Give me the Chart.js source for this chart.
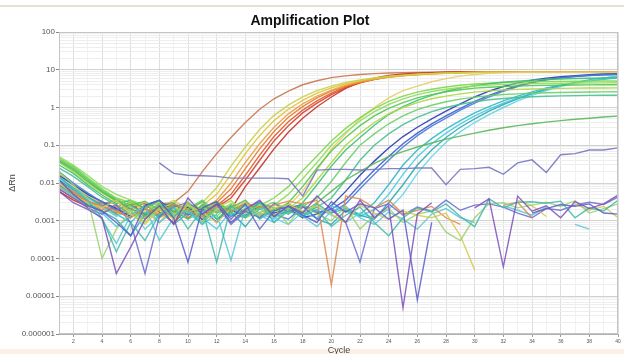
<!DOCTYPE html>
<html><head><meta charset="utf-8">
<script src="https://cdn.jsdelivr.net/npm/chart.js@4.4.1/dist/chart.umd.min.js"></script>
<style>html,body{margin:0;padding:0;background:#fff}canvas{display:block}</style>
</head><body>
<canvas id="c" width="624" height="354"></canvas>
<script>
// ---- categories / ticks ----
const cycles = [1,2,3,4,5,6,7,8,9,10,11,12,13,14,15,16,17,18,19,20,21,22,23,24,25,26,27,28,29,30,31,32,33,34,35,36,37,38,39,40];
const xTickLabels = ['2','4','6','8','10','12','14','16','18','20','22','24','26','28','30','32','34','36','38','40'];
const yDecades = [0.000001,0.00001,0.0001,0.001,0.01,0.1,1,10,100];
const yTickLabels = ['0.000001','0.00001','0.0001','0.001','0.01','0.1','1','10','100'];

// ---- amplified wells (ΔRn per cycle) ----
const brown = [0.012,0.0065,0.0045,0.0028,0.0035,0.002,0.0016,0.0028,0.003,0.006,0.02,0.06,0.16,0.4,0.9,1.7,2.7,4.0,5.1,6.2,6.9,7.5,7.9,8.2,8.4,8.5,8.6,8.7,8.7,8.7,8.7,8.7,8.7,8.7,8.7,8.7,8.7,8.7,8.7,8.7];
const ylwGreen = [0.018,0.009,0.005,0.0032,0.002,0.0028,0.0012,0.0022,0.0035,0.002,0.003,0.0075,0.028,0.09,0.26,0.62,1.15,1.9,2.8,3.7,4.6,5.4,6.1,6.7,7.2,7.6,7.9,8.1,8.3,8.4,8.5,8.5,8.5,8.5,8.5,8.5,8.5,8.5,8.5,8.5];
const yellow = [0.01,0.006,0.004,0.0025,0.0015,0.0032,0.0018,0.0009,0.0024,0.0016,0.0025,0.005,0.017,0.06,0.18,0.45,0.9,1.55,2.4,3.3,4.2,5.1,5.8,6.5,7.0,7.5,7.8,8.1,8.3,8.5,8.6,8.6,8.6,8.6,8.6,8.6,8.6,8.6,8.6,8.6];
const ltOrange = [0.008,0.0045,0.003,0.0022,0.0014,0.0026,0.0031,0.0012,0.0019,0.0027,0.002,0.0035,0.01,0.035,0.11,0.3,0.68,1.25,2.0,2.9,3.9,4.8,5.6,6.3,6.9,7.4,7.8,8.1,8.3,8.5,8.6,8.6,8.6,8.6,8.6,8.6,8.6,8.6,8.6,8.6];
const orange = [0.011,0.0055,0.0035,0.0019,0.0027,0.0013,0.0022,0.0034,0.0011,0.0024,0.0017,0.003,0.007,0.024,0.08,0.23,0.55,1.05,1.8,2.7,3.7,4.7,5.6,6.4,7.0,7.5,7.9,8.2,8.4,8.6,8.7,8.7,8.7,8.7,8.7,8.7,8.7,8.7,8.7,8.7];
const redOrange = [0.007,0.004,0.0026,0.0017,0.0023,0.0031,0.0014,0.0019,0.0028,0.0012,0.0021,0.0025,0.005,0.016,0.055,0.17,0.42,0.85,1.5,2.4,3.5,4.6,5.6,6.5,7.2,7.7,8.1,8.4,8.6,8.7,8.7,8.7,8.7,8.7,8.7,8.7,8.7,8.7,8.7,8.7];
const red = [0.009,0.005,0.0033,0.0024,0.0016,0.0021,0.0029,0.0013,0.0026,0.0018,0.0011,0.0023,0.004,0.012,0.04,0.13,0.33,0.72,1.3,2.2,3.3,4.5,5.6,6.6,7.3,7.8,8.2,8.5,8.7,8.7,8.7,8.7,8.7,8.7,8.7,8.7,8.7,8.7,8.7,8.7];
const darkRed = [0.006,0.0035,0.0024,0.0031,0.0018,0.0012,0.0025,0.0017,0.0009,0.0021,0.0014,0.0019,0.002,0.008,0.025,0.08,0.22,0.52,1.05,1.9,3.2,4.7,6.0,7.1,7.7,8.1,8.4,8.6,8.7,8.7,8.7,8.7,8.7,8.7,8.7,8.7,8.7,8.7,8.7,8.7];
const gold = [0.014,0.008,0.0045,0.003,0.0018,0.0024,0.0032,0.0015,0.0021,0.0028,0.0013,0.0019,0.0027,0.0016,0.0022,0.0012,0.0025,0.006,0.022,0.08,0.2,0.5,1.0,1.8,2.8,3.7,4.8,5.8,6.8,7.5,8.0,8.3,8.5,8.6,8.6,8.6,8.6,8.6,8.6,8.6];
const green1 = [0.045,0.028,0.014,0.007,0.004,0.003,0.0022,0.003,0.0018,0.0025,0.0015,0.003,0.002,0.0028,0.0025,0.004,0.008,0.021,0.052,0.13,0.28,0.54,0.93,1.45,2.0,2.55,3.05,3.5,3.9,4.2,4.4,4.6,4.72,4.8,4.87,4.92,4.96,5.0,5.02,5.05];
const green2 = [0.05,0.03,0.016,0.008,0.005,0.0035,0.0026,0.002,0.0031,0.0017,0.0024,0.0013,0.0029,0.0021,0.0016,0.0026,0.005,0.013,0.035,0.1,0.22,0.44,0.78,1.2,1.7,2.2,2.65,3.05,3.4,3.7,3.92,4.1,4.22,4.3,4.36,4.4,4.44,4.47,4.5,4.52];
const green3 = [0.04,0.024,0.012,0.006,0.0035,0.0026,0.0033,0.0019,0.0014,0.0027,0.0021,0.0032,0.0016,0.0012,0.0023,0.0018,0.003,0.008,0.025,0.07,0.16,0.33,0.6,0.95,1.35,1.8,2.2,2.6,2.95,3.25,3.45,3.6,3.72,3.8,3.86,3.9,3.94,3.97,4.0,4.02];
const lime = [0.035,0.02,0.01,0.0055,0.0032,0.0018,0.0009,0.0024,0.0015,0.0029,0.0012,0.0022,0.0034,0.0017,0.0026,0.0014,0.0021,0.004,0.012,0.035,0.1,0.21,0.4,0.68,1.0,1.35,1.7,2.0,2.3,2.55,2.75,2.9,3.02,3.1,3.17,3.22,3.26,3.28,3.3,3.32];
const green4 = [0.03,0.018,0.009,0.0048,0.0028,0.0035,0.0021,0.0013,0.0027,0.0019,0.0033,0.0011,0.0024,0.0018,0.0029,0.0022,0.0015,0.003,0.009,0.028,0.075,0.16,0.34,0.65,1.05,1.55,2.1,2.7,3.25,3.8,4.25,4.65,5.0,5.3,5.5,5.7,5.85,5.95,6.05,6.1];
const green5 = [0.042,0.026,0.013,0.0065,0.0038,0.0024,0.0016,0.0028,0.0012,0.0021,0.0035,0.0017,0.0026,0.0013,0.0022,0.0031,0.0019,0.0024,0.004,0.011,0.035,0.1,0.2,0.37,0.6,0.88,1.15,1.42,1.67,1.88,2.05,2.2,2.3,2.38,2.45,2.5,2.54,2.57,2.6,2.62];
const green6 = [0.025,0.015,0.008,0.0042,0.0026,0.0015,0.0022,0.0034,0.0014,0.0019,0.0009,0.0025,0.0016,0.0031,0.0012,0.0021,0.0027,0.0015,0.0023,0.004,0.012,0.04,0.1,0.2,0.35,0.55,0.78,1.0,1.22,1.42,1.6,1.73,1.84,1.92,1.98,2.03,2.06,2.09,2.11,2.12];
const greenLow = [0.038,0.022,0.011,0.0058,0.0034,0.0021,0.0013,0.0025,0.0018,0.0011,0.0027,0.0016,0.0022,0.0035,0.0014,0.0019,0.0028,0.0017,0.003,0.006,0.012,0.02,0.033,0.05,0.068,0.09,0.115,0.145,0.175,0.21,0.25,0.29,0.33,0.37,0.41,0.45,0.49,0.52,0.56,0.59];
const blue1 = [0.016,0.009,0.005,0.0032,0.0021,0.0013,0.0026,0.0035,0.0017,0.0023,0.0011,0.0028,0.0019,0.0014,0.0024,0.0016,0.0021,0.0012,0.0015,0.0025,0.006,0.016,0.038,0.085,0.17,0.3,0.5,0.8,1.25,1.9,2.7,3.6,4.5,5.3,6.0,6.5,7.0,7.4,7.7,7.9];
const blue2 = [0.012,0.007,0.0042,0.0025,0.0033,0.0018,0.0011,0.0024,0.003,0.0014,0.0021,0.0009,0.0026,0.0017,0.0031,0.0013,0.0022,0.0027,0.0016,0.002,0.0035,0.009,0.022,0.05,0.11,0.21,0.37,0.6,0.95,1.45,2.1,2.9,3.8,4.7,5.5,6.1,6.6,7.0,7.3,7.5];
const blue3 = [0.02,0.01,0.0055,0.0031,0.0019,0.0027,0.0015,0.0022,0.0012,0.0029,0.0018,0.0024,0.0013,0.002,0.0032,0.0015,0.0011,0.0023,0.0018,0.0016,0.0028,0.007,0.017,0.04,0.09,0.18,0.32,0.52,0.85,1.3,1.9,2.7,3.6,4.5,5.4,6.1,6.7,7.1,7.4,7.6];
const cyan1 = [0.014,0.0075,0.0042,0.0026,0.0015,0.0009,0.0021,0.0012,0.0028,0.0017,0.0008,0.0023,0.0014,0.0026,0.0011,0.0019,0.0024,0.0013,0.0028,0.0016,0.0021,0.0015,0.003,0.009,0.03,0.075,0.15,0.27,0.45,0.72,1.05,1.5,2.0,2.6,3.3,3.9,4.5,5.1,5.6,6.1];
const cyan2 = [0.011,0.006,0.0035,0.0016,0.0007,0.0013,0.0024,0.0009,0.0018,0.0027,0.0012,0.0006,0.0019,0.0025,0.0014,0.0009,0.0022,0.0016,0.0012,0.0025,0.0018,0.0013,0.002,0.005,0.017,0.05,0.11,0.21,0.37,0.6,0.9,1.3,1.8,2.4,3.1,3.8,4.5,5.2,5.8,6.4];
const teal = [0.009,0.005,0.0028,0.0018,0.0011,0.0004,0.0015,0.0022,0.0008,0.0016,0.0025,0.0011,0.0017,0.0007,0.0021,0.0013,0.0018,0.0026,0.0011,0.0008,0.0019,0.0014,0.0011,0.003,0.009,0.03,0.075,0.16,0.3,0.5,0.8,1.2,1.7,2.3,3.0,3.8,4.6,5.4,6.1,6.8];
const ltCyan = [0.013,0.007,0.004,0.0023,0.0013,0.002,0.0006,0.0014,0.0021,0.0011,0.0017,0.0024,0.0009,0.0015,0.0022,0.0012,0.0008,0.0017,0.0023,0.0014,0.0009,0.0016,0.0012,0.002,0.005,0.018,0.05,0.12,0.23,0.4,0.65,1.0,1.5,2.1,2.8,3.6,4.4,5.2,6.0,6.7];

// ---- non-amplified wells ----
const slateHigh = [null,null,null,null,null,null,null,0.034,0.018,0.016,0.0155,0.015,0.0135,0.0135,0.0135,0.0135,0.013,0.0045,0.022,0.023,0.023,0.022,0.023,0.024,0.024,0.025,0.025,0.009,0.023,0.024,0.026,0.017,0.034,0.041,0.019,0.056,0.06,0.075,0.075,0.085];
const ntcPurple = [0.006,0.003,0.002,0.0012,0.00004,0.0002,0.0011,0.0025,0.0008,0.004,0.0015,0.0028,0.0009,0.002,0.0035,0.0013,0.0025,0.0016,0.0045,0.002,0.0009,0.0035,0.0012,0.0025,0.000005,0.0015,0.003,null,null,0.0022,0.0038,0.00006,0.0045,0.0018,0.0025,0.0012,0.0032,0.0021,0.0028,0.0048];
const ntcViolet = [0.012,0.005,0.0025,0.0018,0.0009,0.0004,0.0025,0.0035,0.0012,0.00008,0.0022,0.0032,0.0011,0.0028,0.0006,0.0018,0.0024,0.0014,0.0009,0.0032,0.0017,0.0028,0.0022,0.0011,0.0019,0.000008,0.0009,null,null,null,null,null,null,0.0016,0.0021,0.0027,0.0024,0.0028,0.0016,0.0015];
const ntcTeal = [0.015,0.007,0.0035,0.0012,0.00015,0.0009,0.0003,0.0015,0.0024,0.0006,0.002,0.00008,0.0025,0.0012,0.0032,0.0009,0.0018,0.0013,0.002,0.0007,0.0014,0.0023,0.0009,0.0004,0.0012,0.0022,0.0017,0.0028,0.0013,0.0007,0.0038,0.0022,0.0031,0.0032,0.0029,0.0033,0.0012,0.0022,0.0018,0.0035];
const ntcLtGreen = [0.02,0.009,0.004,0.0001,0.0006,0.0018,0.0011,0.0022,0.0014,0.0032,0.0009,0.002,0.0026,0.0012,0.0017,0.0023,0.0008,0.0027,0.0015,0.001,0.0024,0.0006,0.0014,0.0021,0.0009,0.0015,0.0018,0.0005,0.0003,0.0012,0.0028,0.003,0.0022,0.0026,0.0031,0.0024,0.0034,0.0016,0.0021,0.0028];
const ntcYellow = [0.01,0.005,0.003,0.0022,0.0035,0.0015,0.0008,0.002,0.0011,0.0026,0.0017,0.0009,0.0021,0.0031,0.0014,0.0022,0.0027,0.0018,0.0025,0.0015,0.0009,0.0026,0.0016,0.0011,0.0018,0.0014,0.0012,0.0016,0.0004,0.00005,null,null,0.0035,0.0025,0.0013,null,0.0028,0.0019,0.0024,0.0012];
const ntcOrange = [0.009,0.006,0.0032,0.0025,0.0018,0.0012,0.0021,0.0015,0.0028,0.0019,0.0013,0.0024,0.0017,0.0029,0.0022,0.0026,0.0033,0.0028,0.0035,0.00002,0.0045,0.0038,0.0022,0.0035,0.0015,0.0019,0.0024,0.0012,0.0008,null,null,0.0026,0.0031,0.0012,null,null,null,null,null,null];
const ntcSlate = [0.007,0.004,0.0022,0.0015,0.0026,0.0009,0.00004,0.0013,0.0023,0.0031,0.0015,0.0027,0.0008,0.0018,0.0012,0.0029,0.0017,0.0024,0.0011,0.0022,0.0009,0.00008,0.0021,0.0028,0.0014,0.0023,0.0018,0.0035,0.0019,0.0026,0.0028,0.0023,0.0016,0.0012,0.0021,0.0019,0.0026,0.0031,0.0027,0.0042];
const ntcCyan = [0.008,0.0045,0.0025,0.0011,0.00025,0.0014,0.0024,0.0003,0.0012,0.0019,0.0008,0.0015,0.00009,0.0022,0.0016,0.0011,0.0025,0.0013,0.0007,0.0018,0.0024,0.0012,0.0008,0.0017,0.0011,0.0006,0.0015,0.0021,0.0012,0.0009,null,0.0025,0.0019,0.0014,0.0023,null,0.0008,0.0006,null,null];

const wells = [
  [ntcPurple,'rgba(122,79,184,0.85)'], [ntcViolet,'rgba(90,90,200,0.85)'], [ntcTeal,'rgba(64,184,168,0.85)'],
  [ntcLtGreen,'rgba(152,208,112,0.85)'], [ntcYellow,'rgba(216,200,80,0.85)'], [ntcOrange,'rgba(224,134,74,0.85)'],
  [ntcSlate,'rgba(106,106,208,0.85)'], [ntcCyan,'rgba(88,196,212,0.85)'], [slateHigh,'rgba(120,120,192,0.9)'],
  [greenLow,'rgba(90,184,90,0.9)'], [green6,'rgba(72,192,144,0.9)'], [green5,'rgba(104,208,104,0.9)'],
  [lime,'rgba(168,216,64,0.9)'], [green3,'rgba(80,200,80,0.9)'], [green2,'rgba(144,220,90,0.9)'],
  [green4,'rgba(60,192,112,0.9)'], [green1,'rgba(124,216,74,0.9)'],
  [ltCyan,'rgba(96,212,228,0.9)'], [teal,'rgba(48,168,176,0.9)'], [cyan2,'rgba(72,204,224,0.9)'], [cyan1,'rgba(48,184,200,0.9)'],
  [blue3,'rgba(74,122,216,0.9)'], [blue2,'rgba(58,92,204,0.9)'], [blue1,'rgba(42,60,176,0.9)'],
  [gold,'rgba(232,204,106,0.9)'], [ylwGreen,'rgba(200,208,72,0.9)'], [yellow,'rgba(226,194,50,0.9)'],
  [ltOrange,'rgba(234,160,64,0.9)'], [orange,'rgba(232,122,48,0.9)'], [redOrange,'rgba(224,90,40,0.9)'],
  [red,'rgba(216,64,44,0.9)'], [darkRed,'rgba(200,48,40,0.9)'], [brown,'rgba(200,120,80,0.9)']
];

function isDecade(v){ return yDecades.some(d => Math.abs(Math.log10(v) - Math.log10(d)) < 1e-6); }

const deco = {
  id: 'deco',
  beforeDraw(chart){
    const c = chart.ctx; c.save();
    c.fillStyle = '#ffffff'; c.fillRect(0,0,chart.width,chart.height);
    c.fillStyle = '#e8e1d3'; c.fillRect(0,5,chart.width,2);
    c.fillStyle = '#fcf1e4'; c.fillRect(0,349,chart.width,5);
    c.restore();
  },
  afterDraw(chart){
    const c = chart.ctx, a = chart.chartArea; c.save();
    c.strokeStyle = '#c4c4c4'; c.lineWidth = 1;
    c.strokeRect(a.left+0.5, a.top+0.5, a.right-a.left-1, a.bottom-a.top-1);
    c.fillStyle = '#111'; c.textAlign = 'center'; c.textBaseline = 'middle';
    c.font = 'bold 14px "Liberation Sans", Arial, sans-serif';
    c.fillText('Amplification Plot', 310, 21);
    c.fillStyle = '#444';
    c.font = '9px "Liberation Sans", Arial, sans-serif';
    c.fillText('Cycle', 339, 351);
    c.translate(13, 183); c.rotate(-Math.PI/2);
    c.fillText('\u0394Rn', 0, 0);
    c.restore();
  }
};

new Chart(document.getElementById('c'), {
  type: 'line',
  data: {
    labels: cycles,
    datasets: wells.map(([d, col]) => ({
      data: d, borderColor: col, backgroundColor: col, borderWidth: 1.4,
      pointRadius: 0, fill: false, spanGaps: false, tension: 0
    }))
  },
  options: {
    responsive: false, animation: false, devicePixelRatio: 1,
    layout: { padding: { top: 32, right: 6, left: 0, bottom: 0 } },
    plugins: { legend: { display: false }, title: { display: false }, tooltip: { enabled: false } },
    scales: {
      x: {
        type: 'category', offset: false,
        border: { color: '#b0b0b0' },
        grid: {
          color: ctx => (cycles[ctx.index] % 2 === 0 ? '#dedede' : '#f1f1f1'),
          tickColor: ctx => (cycles[ctx.index] % 2 === 0 ? '#999' : 'rgba(0,0,0,0)'),
          tickLength: 3
        },
        ticks: {
          autoSkip: false, maxRotation: 0, minRotation: 0, padding: 2, color: '#555',
          font: { size: 5, family: '"Liberation Sans", Arial, sans-serif' },
          callback: (v, i) => (xTickLabels.includes(String(cycles[i])) ? String(cycles[i]) : '')
        },
        afterFit: s => { s.height = 20; }
      },
      y: {
        type: 'logarithmic', min: 0.000001, max: 100,
        border: { color: '#b0b0b0' },
        afterBuildTicks: s => {
          const t = [];
          for (let i = 0; i < yDecades.length - 1; i++) {
            for (let k = 1; k <= 9; k++) t.push({ value: yDecades[i] * k });
          }
          t.push({ value: yDecades[yDecades.length - 1] });
          s.ticks = t;
        },
        grid: {
          color: ctx => (ctx.tick && isDecade(ctx.tick.value) ? '#d2d2d2' : '#eeeeee'),
          tickColor: ctx => (ctx.tick && isDecade(ctx.tick.value) ? '#888' : 'rgba(0,0,0,0)'),
          tickLength: 3
        },
        ticks: {
          autoSkip: false, padding: 1, color: '#555',
          font: { size: 8, family: '"Liberation Sans", Arial, sans-serif' },
          callback: v => {
            const i = yDecades.findIndex(d => Math.abs(Math.log10(v) - Math.log10(d)) < 1e-6);
            return i >= 0 ? yTickLabels[i] : '';
          }
        },
        afterFit: s => { s.width = 59; }
      }
    }
  },
  plugins: [deco]
});
</script>
</body></html>
